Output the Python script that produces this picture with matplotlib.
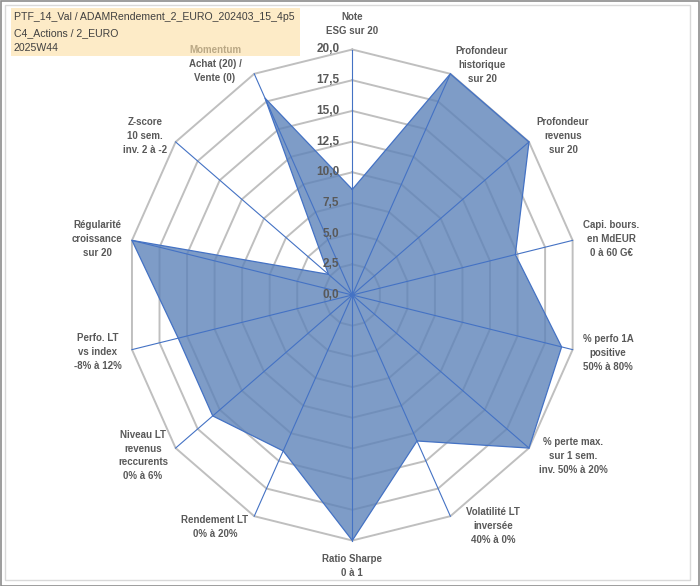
import numpy as np
import matplotlib
matplotlib.use("Agg")
import matplotlib.pyplot as plt
from matplotlib.patches import Rectangle

# ---------------- data ----------------
categories = [
    "Note\nESG sur 20",
    "Profondeur\nhistorique\nsur 20",
    "Profondeur\nrevenus\nsur 20",
    "Capi. bours.\nen MdEUR\n0 à 60 G€",
    "% perfo 1A\npositive\n50% à 80%",
    "% perte max.\nsur 1 sem.\ninv. 50% à 20%",
    "Volatilité LT\ninversée\n40% à 0%",
    "Ratio Sharpe\n0 à 1",
    "Rendement LT\n0% à 20%",
    "Niveau LT\nrevenus\nreccurents\n0% à 6%",
    "Perfo. LT\nvs index\n-8% à 12%",
    "Régularité\ncroissance\nsur 20",
    "Z-score\n10 sem.\ninv. 2 à -2",
    "Momentum\nAchat (20) /\nVente (0)",
]
values = [8.6, 20.0, 20.0, 14.8, 19.0, 20.0, 13.2, 20.0, 14.1, 15.8, 15.8, 20.0, 2.7, 17.8]
ticks = [0.0, 2.5, 5.0, 7.5, 10.0, 12.5, 15.0, 17.5, 20.0]
tick_labels = ["0,0", "2,5", "5,0", "7,5", "10,0", "12,5", "15,0", "17,5", "20,0"]
title_lines = ["PTF_14_Val / ADAMRendement_2_EURO_202403_15_4p5",
               "C4_Actions / 2_EURO",
               "2025W44"]

# label offsets (pixels) from outer vertex: layout only
label_offsets = [(0, 25.5), (31.6, 8.8), (34, 6), (38.4, 1.4), (35.4, -3.4),
                 (44, -8), (42.6, -9.8), (0, -25.5), (-39.2, -10.8), (-32.6, -7.4),
                 (-34, -2.4), (-35, 1.4), (-30.6, 6), (-39.2, 9.8)]

W, H = 700, 586
fig = plt.figure(figsize=(W / 100, H / 100), dpi=100)
fig.patch.set_facecolor("white")

cx, cy = 352.3, 295.0
Rx, Ry = 226.0, 245.5
ax = fig.add_axes([(cx - Rx) / W, (H - cy - Ry) / H, 2 * Rx / W, 2 * Ry / H],
                  projection="polar")
ax.set_aspect("auto")
ax.set_theta_zero_location("N")
ax.set_theta_direction(-1)
ax.set_ylim(0, 20)
ax.grid(False)
ax.spines["polar"].set_visible(False)
ax.set_xticks([])
ax.set_yticks([])
ax.patch.set_alpha(0)

n = len(categories)
angles = np.arange(n) * 2 * np.pi / n
ang_c = np.append(angles, angles[0])

# polygon grid rings
for t in ticks[1:]:
    ax.plot(ang_c, [t] * (n + 1), color="#BFBFBF", lw=1.4, zorder=1, clip_on=False)

# data fill
vals_c = np.append(values, values[0])
ax.fill(ang_c, vals_c, color="#5E83B9", alpha=0.8, zorder=2, lw=0)
ax.plot(ang_c, vals_c, color="#4472C4", lw=0.9, zorder=4, clip_on=False)

# axis spokes
for a in angles:
    ax.plot([a, a], [0, 20], color="#4472C4", lw=0.8, zorder=3, clip_on=False)

# radial tick labels
for t, lab in zip(ticks, tick_labels):
    ax.annotate(lab, xy=(0, t), xytext=(-13, 0), textcoords="offset pixels",
                ha="right", va="center", fontsize=8.5, fontweight="bold",
                color="#595959", family="Liberation Sans", zorder=5,
                annotation_clip=False)

# category labels
for a, lab, off in zip(angles, categories, label_offsets):
    ax.annotate(lab, xy=(a, 20), xytext=off, textcoords="offset pixels",
                ha="center", va="center", multialignment="center",
                fontsize=7, fontweight="bold", color="#595959",
                family="Liberation Sans", linespacing=1.45, zorder=5,
                annotation_clip=False)

# title box (drawn over the Momentum label)
fig.patches.append(Rectangle((11 / W, 1 - 56 / H), 289 / W, 48 / H,
                             transform=fig.transFigure, facecolor="#FCDEA3",
                             alpha=0.6, edgecolor="none", zorder=10))
for i, line in enumerate(title_lines):
    fig.text(14 / W, 1 - (17.3 + 15.5 * i) / H, line, ha="left", va="center",
             fontsize=7.6, color="#404040", family="Liberation Sans", zorder=11)

# chart frame
fig.patches.append(Rectangle((5 / W, 1 - 580 / H), 685 / W, 575 / H,
                             transform=fig.transFigure, facecolor="none",
                             edgecolor="#D9D9D9", lw=1, zorder=0))
fig.patches.append(Rectangle((0.5 / W, 0.5 / H), 698.5 / W, 585 / H,
                             transform=fig.transFigure, facecolor="none",
                             edgecolor="#8C8C8C", lw=1.2, zorder=0))

fig.savefig("out.png", dpi=100)
